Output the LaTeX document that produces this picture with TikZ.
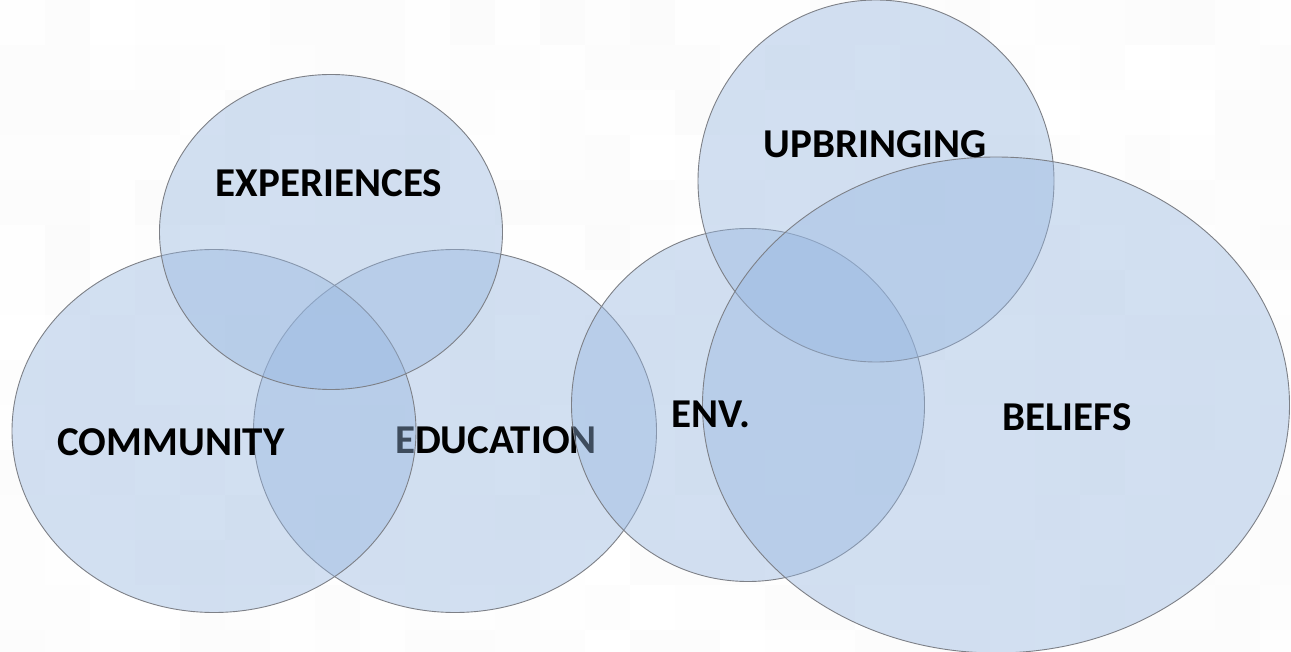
\documentclass[tikz,border=0pt]{standalone}
\usepackage{fontspec}
\setmainfont{Carlito}
\usetikzlibrary{shapes.geometric}
\definecolor{bubblefill}{RGB}{150,182,224}
\definecolor{bubbleedge}{RGB}{125,128,135}
\tikzset{
  bubble/.style={ellipse, draw=bubbleedge, line width=0.9pt, fill=bubblefill, fill opacity=0.42, inner sep=0pt},
  lbl/.style={font=\fontsize{41}{44}\selectfont\bfseries, text=black, inner sep=0pt, anchor=base}
}
\begin{document}
\begin{tikzpicture}[x=1pt,y=-1pt]
\useasboundingbox (0,0) rectangle (1291,652);
% faint checkered background
\pgfmathsetseed{7}
\foreach \i in {0,...,28}{
  \foreach \j in {0,...,14}{
    \pgfmathsetmacro{\g}{97+3*rnd}
    \fill[white!\g!gray] (\i*45,\j*45) rectangle ++(45,45);
  }
}
% EDUCATION first so that its outer letters sit under neighbours
\node[bubble, minimum width=403pt, minimum height=363pt] (education) at (455,431) {};
\node[lbl] (tedu) at (496,453) {EDUCATION};
\node[bubble, minimum width=404pt, minimum height=363pt] (community) at (214,431) {};
\node[bubble, minimum width=343pt, minimum height=315pt] (experiences) at (331,232) {};
\node[bubble, minimum width=353pt, minimum height=353pt] (env) at (748,405) {};
\node[bubble, minimum width=356pt, minimum height=362pt] (upbringing) at (876,181) {};
\node[bubble, minimum width=587pt, minimum height=496pt] (beliefs) at (996,405) {};
% labels
\node[lbl] (texp) at (329,197) {EXPERIENCES};
\node[lbl] (tcom) at (171,455) {COMMUNITY};
\node[lbl] (tenv) at (711,427) {ENV.};
\node[lbl] (tupb) at (875,158) {UPBRINGING};
\node[lbl] (tbel) at (1067,430) {BELIEFS};
\end{tikzpicture}
\end{document}
